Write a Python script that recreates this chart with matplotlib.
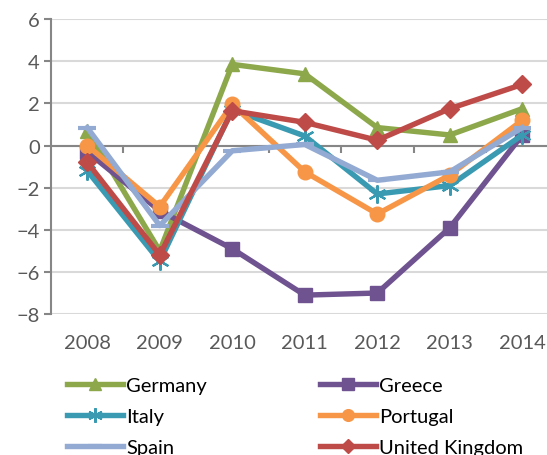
import numpy as np
import matplotlib.pyplot as plt
from matplotlib.lines import Line2D

plt.rcParams['font.family'] = ['Lato', 'DejaVu Sans']

years = ['2008', '2009', '2010', '2011', '2012', '2013', '2014']

germany = [0.7, -5.0, 3.85, 3.4, 0.85, 0.5, 1.75]
greece = [-0.3, -3.1, -4.9, -7.1, -7.0, -3.9, 0.5]
italy = [-1.2, -5.5, 1.7, 0.45, -2.3, -1.9, 0.5]
portugal = [0.0, -2.9, 1.95, -1.25, -3.25, -1.4, 1.2]
spain = [0.85, -3.8, -0.25, 0.05, -1.65, -1.25, 0.85]
uk = [-0.8, -5.2, 1.65, 1.1, 0.25, 1.75, 2.9]

series = [
    ('Germany', germany, '#8CA84B', '^'),
    ('Greece', greece, '#6F5290', 's'),
    ('Italy', italy, '#3A9AB2', (6, 2, 0)),
    ('Portugal', portugal, '#F79646', 'o'),
    ('Spain', spain, '#93AAD2', '_'),
    ('United Kingdom', uk, '#BE4B48', 'D'),
]

fig = plt.figure(figsize=(5.47, 4.56), dpi=100)
ax = fig.add_axes([0.0932, 0.309, 0.928, 0.647])

x = np.arange(len(years))
handles = {}
for i, (name, vals, col, mk) in enumerate(series):
    ms = 10.5
    mew = 1
    if mk == 'D':
        ms = 9
    if mk == '_':
        ms = 13
        mew = 3
    if mk == (6, 2, 0):
        ms = 13
        mew = 1.6
    ax.plot(x, vals, color=col, lw=3.9, marker=mk, ms=ms, mfc=col, mec=col,
            mew=mew, zorder=3 + i, clip_on=False)
    handles[name] = Line2D([], [], color=col, lw=3.9, marker=mk, ms=ms * 0.8,
                           mfc=col, mec=col, mew=mew)

ax.set_xlim(-0.5, 6.5)
ax.set_ylim(-8, 6)
ax.set_yticks(range(-8, 7, 2))

ax.grid(axis='y', color='#D9D9D9', lw=1.5, zorder=0)
ax.set_axisbelow(True)
for s in ['top', 'right']:
    ax.spines[s].set_visible(False)
ax.spines['left'].set_color('#868686')
ax.spines['left'].set_linewidth(1.5)
ax.tick_params(axis='y', colors='#868686', length=5, width=1.5, labelcolor='#595959',
               labelsize=14.5, pad=3)

# zero axis with ticks between categories, pointing down
ax.spines['bottom'].set_position(('data', 0))
ax.spines['bottom'].set_color('#868686')
ax.spines['bottom'].set_linewidth(1.5)
ax.set_xticks(np.arange(0.5, 6.5, 1.0))
ax.tick_params(axis='x', colors='#868686', length=5, width=1.5, direction='out',
               labelbottom=False)

# year labels along the bottom of the plot
sec = ax.secondary_xaxis('bottom')
sec.set_xticks(x, years)
sec.spines['bottom'].set_visible(False)
sec.tick_params(axis='x', length=0, labelcolor='#595959', labelsize=14.5, pad=14)

# legend order, row by row like the original (column-major in matplotlib)
order = ['Germany', 'Italy', 'Spain', 'Greece', 'Portugal', 'United Kingdom']
fig.legend([handles[n] for n in order], order, ncol=2, frameon=False,
           loc='upper left', bbox_to_anchor=(0.122, 0.171), fontsize=14.5,
           handlelength=2.8, handletextpad=0.15, columnspacing=5.6,
           labelspacing=0.68, borderpad=0, borderaxespad=0)

fig.savefig('out.png', dpi=100)
